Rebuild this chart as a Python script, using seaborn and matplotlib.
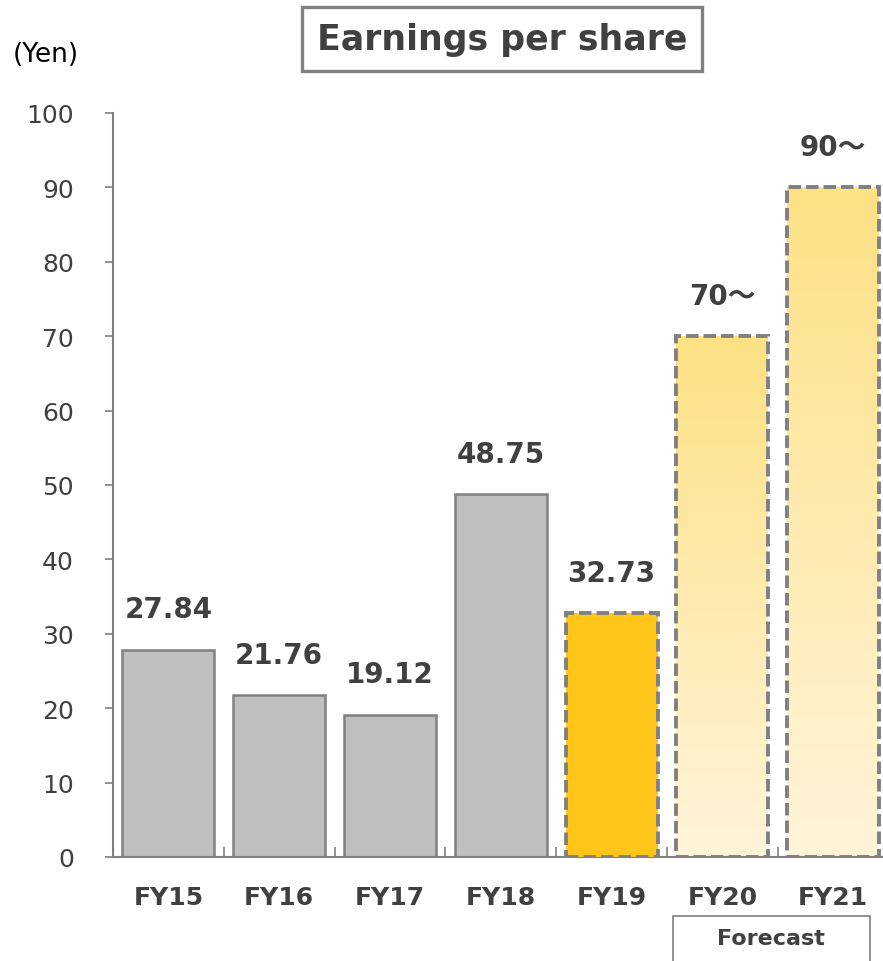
import numpy as np
import pandas as pd
import matplotlib
matplotlib.use('Agg')
from matplotlib import pyplot as plt
from matplotlib.ticker import MultipleLocator
import seaborn as sns

years = ['FY15', 'FY16', 'FY17', 'FY18', 'FY19', 'FY20', 'FY21']
eps = [27.84, 21.76, 19.12, 48.75, 32.73, 70, 90]
labels = ['27.84', '21.76', '19.12', '48.75', '32.73', '70～', '90～']
bar_colors = ['#BFBFBF', '#BFBFBF', '#BFBFBF', '#BFBFBF', '#FFC519', '#FFFFFF', '#FFFFFF']

sns.set_style('white')
plt.rcParams['font.family'] = ['DejaVu Sans', 'Noto Sans CJK JP']

data = pd.DataFrame({'year': years, 'eps': eps})

fig = plt.figure(figsize=(8.83, 9.62), dpi=100)
ax = fig.add_axes([113 / 883, 104 / 962, 1 - 113 / 883, 744 / 962])

sns.barplot(data=data, x='year', y='eps', hue='year', palette=bar_colors,
            legend=False, width=0.83, ax=ax, saturation=1)

grey = '#808080'
for i, p in enumerate(ax.patches):
    if i < 4:
        p.set_edgecolor(grey)
        p.set_linewidth(1.8)
    else:
        p.set_edgecolor(grey)
        p.set_linewidth(2.8)
        p.set_linestyle((0, (3.2, 1.3)))
        p.set_zorder(3)
    if i >= 5:
        # vertical gradient fill for forecast bars
        x0, w, h = p.get_x(), p.get_width(), p.get_height()
        grad = np.linspace(1, 0, 256).reshape(-1, 1)
        cmap = matplotlib.colors.LinearSegmentedColormap.from_list(
            'fc', ['#FFF4DA', '#FDE184'])
        im = ax.imshow(grad, extent=(x0, x0 + w, 0, h), cmap=cmap,
                       aspect='auto', origin='upper', zorder=2)
        im.set_clip_path(p)
        p.set_facecolor('none')

ax.set_xlim(-0.5, 6.45)
ax.set_ylim(0, 100)
ax.yaxis.set_major_locator(MultipleLocator(10))
ax.set_xlabel('')
ax.set_ylabel('')

for s in ['top', 'right']:
    ax.spines[s].set_visible(False)
for s in ['left', 'bottom']:
    ax.spines[s].set_color(grey)
    ax.spines[s].set_linewidth(1.5)

ax.tick_params(axis='y', direction='out', length=6, width=1.2, color=grey,
               labelsize=18, labelcolor='#404040', pad=22, left=True)
ax.tick_params(axis='x', which='major', length=0, labelsize=18,
               labelcolor='#404040', pad=20)
for t in ax.get_xticklabels():
    t.set_fontweight('bold')
ax.set_xticks([k + 0.5 for k in range(6)], minor=True)
ax.tick_params(axis='x', which='minor', direction='in', length=7,
               width=1.2, color=grey, bottom=True)

for p, lab in zip(ax.patches, labels):
    ax.annotate(lab, (p.get_x() + p.get_width() / 2, p.get_height()),
                xytext=(0, 19), textcoords='offset points', ha='center',
                va='bottom', fontsize=20, fontweight='bold', color='#404040')

fig.text(502 / 883, 1 - 40 / 962, 'Earnings per share', ha='center',
         va='center', fontsize=25, fontweight='bold', color='#404040',
         bbox=dict(boxstyle='square,pad=0.42', facecolor='white',
                   edgecolor=grey, linewidth=2.4))
fig.text(13 / 883, 1 - 55 / 962, '(Yen)', ha='left', va='center',
         fontsize=19, color='black')
fig.text(771 / 883, 1 - 939 / 962, 'Forecast', ha='center', va='center',
         fontsize=16, fontweight='bold', color='#404040')
fig.add_artist(plt.Rectangle((673 / 883, -0.01), 197 / 883, 0.01 + 45 / 962,
                             transform=fig.transFigure, fill=False,
                             edgecolor=grey, linewidth=1.2))

fig.savefig('out.png', dpi=100)
